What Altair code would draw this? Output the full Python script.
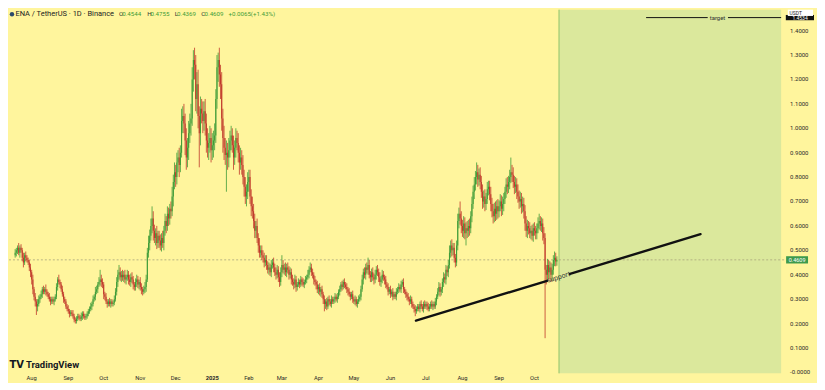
import altair as alt
import pandas as pd

# ---------------- data ----------------
first_day = "2024-07-10"
first_open = 0.39
closes = [
    0.40, 0.41, 0.43, 0.42, 0.45, 0.47, 0.46, 0.48, 0.49, 0.50,
    0.51, 0.49, 0.51, 0.50, 0.47, 0.45, 0.48, 0.47, 0.46, 0.45,
    0.43, 0.41, 0.38, 0.34, 0.31, 0.29, 0.27, 0.28, 0.30, 0.31,
    0.32, 0.34, 0.33, 0.34, 0.33, 0.32, 0.31, 0.30, 0.29, 0.30,
    0.29, 0.30, 0.31, 0.35, 0.38, 0.37, 0.36, 0.34, 0.32, 0.30,
    0.29, 0.27, 0.26, 0.25, 0.24, 0.245, 0.24, 0.23, 0.215, 0.21,
    0.22, 0.23, 0.225, 0.22, 0.23, 0.24, 0.23, 0.225, 0.23, 0.24,
    0.25, 0.26, 0.27, 0.28, 0.30, 0.31, 0.33, 0.34, 0.36, 0.37,
    0.38, 0.37, 0.36, 0.32, 0.31, 0.29, 0.28, 0.29, 0.28, 0.29,
    0.28, 0.285, 0.30, 0.33, 0.37, 0.40, 0.41, 0.39, 0.40, 0.39,
    0.40, 0.38, 0.39, 0.40, 0.38, 0.37, 0.39, 0.38, 0.36, 0.35,
    0.37, 0.38, 0.36, 0.37, 0.35, 0.34, 0.33, 0.34, 0.35, 0.38,
    0.49, 0.53, 0.56, 0.60, 0.63, 0.58, 0.55, 0.57, 0.53, 0.56,
    0.54, 0.52, 0.55, 0.53, 0.58, 0.62, 0.60, 0.65, 0.63, 0.67,
    0.66, 0.72, 0.78, 0.82, 0.80, 0.86, 0.88, 0.85, 0.90, 1.03,
    1.05, 1.02, 0.95, 0.88, 0.92, 0.98, 1.02, 1.04, 1.20, 1.28,
    1.26, 1.12, 1.18, 1.05, 0.98, 1.08, 1.06, 1.03, 1.07, 1.02,
    0.95, 0.92, 0.94, 0.96, 0.91, 0.93, 0.95, 0.97, 1.12, 1.25,
    1.28, 1.22, 1.18, 1.04, 0.96, 0.92, 0.89, 0.90, 0.88, 0.91,
    0.95, 0.97, 0.93, 0.88, 0.92, 0.96, 0.94, 0.90, 0.86, 0.88,
    0.85, 0.80, 0.76, 0.72, 0.74, 0.78, 0.80, 0.72, 0.68, 0.66,
    0.62, 0.58, 0.60, 0.55, 0.52, 0.49, 0.50, 0.48, 0.47, 0.45,
    0.46, 0.44, 0.42, 0.43, 0.41, 0.44, 0.45, 0.43, 0.41, 0.40,
    0.42, 0.39, 0.37, 0.41, 0.44, 0.42, 0.43, 0.41, 0.43, 0.42,
    0.40, 0.41, 0.38, 0.37, 0.36, 0.38, 0.35, 0.36, 0.37, 0.36,
    0.38, 0.37, 0.36, 0.37, 0.38, 0.39, 0.40, 0.42, 0.43, 0.41,
    0.40, 0.38, 0.37, 0.36, 0.34, 0.35, 0.33, 0.34, 0.32, 0.30,
    0.28, 0.29, 0.27, 0.30, 0.29, 0.28, 0.30, 0.29, 0.30, 0.31,
    0.30, 0.31, 0.33, 0.34, 0.36, 0.35, 0.37, 0.36, 0.35, 0.34,
    0.33, 0.32, 0.31, 0.32, 0.30, 0.29, 0.30, 0.28, 0.29, 0.30,
    0.31, 0.34, 0.38, 0.41, 0.40, 0.43, 0.42, 0.44, 0.40, 0.39,
    0.41, 0.39, 0.38, 0.40, 0.42, 0.41, 0.39, 0.37, 0.38, 0.40,
    0.39, 0.38, 0.36, 0.35, 0.33, 0.34, 0.32, 0.33, 0.31, 0.32,
    0.31, 0.33, 0.34, 0.35, 0.34, 0.36, 0.37, 0.34, 0.33, 0.32,
    0.31, 0.30, 0.29, 0.30, 0.28, 0.27, 0.26, 0.25, 0.26, 0.27,
    0.26, 0.28, 0.27, 0.26, 0.28, 0.27, 0.28, 0.27, 0.26, 0.27,
    0.28, 0.27, 0.28, 0.27, 0.29, 0.31, 0.33, 0.35, 0.33, 0.34,
    0.37, 0.39, 0.38, 0.42, 0.41, 0.44, 0.49, 0.52, 0.50, 0.51,
    0.47, 0.45, 0.52, 0.62, 0.65, 0.63, 0.60, 0.58, 0.61, 0.57,
    0.59, 0.58, 0.60, 0.59, 0.64, 0.69, 0.74, 0.77, 0.80, 0.82,
    0.79, 0.81, 0.78, 0.74, 0.70, 0.72, 0.69, 0.71, 0.75, 0.76,
    0.73, 0.69, 0.66, 0.64, 0.67, 0.65, 0.68, 0.66, 0.68, 0.70,
    0.67, 0.69, 0.71, 0.74, 0.77, 0.76, 0.78, 0.80, 0.82, 0.81,
    0.78, 0.76, 0.77, 0.74, 0.72, 0.70, 0.71, 0.68, 0.69, 0.66,
    0.61, 0.58, 0.60, 0.59, 0.57, 0.58, 0.56, 0.59, 0.58, 0.57,
    0.59, 0.61, 0.62, 0.60, 0.61, 0.57, 0.55, 0.42, 0.40, 0.44,
    0.41, 0.43, 0.40, 0.42, 0.46, 0.47, 0.4544, 0.4609,
]
wick_up = [
    0.01, 0.015, 0.01, 0.02, 0.01, 0.015, 0.02, 0.01, 0.015, 0.01,
    0.01, 0.02, 0.01, 0.015, 0.01, 0.02, 0.01, 0.015, 0.01, 0.01,
    0.01, 0.015, 0.01, 0.02, 0.01, 0.015, 0.01, 0.02, 0.015, 0.01,
    0.015, 0.01, 0.015, 0.01, 0.02, 0.01, 0.01, 0.015, 0.01, 0.01,
    0.01, 0.01, 0.01, 0.015, 0.01, 0.02, 0.01, 0.01, 0.015, 0.01,
    0.01, 0.01, 0.01, 0.015, 0.01, 0.01, 0.01, 0.015, 0.01, 0.01,
    0.01, 0.01, 0.01, 0.01, 0.015, 0.01, 0.01, 0.01, 0.01, 0.01,
    0.01, 0.01, 0.015, 0.01, 0.015, 0.01, 0.02, 0.015, 0.01, 0.02,
    0.04, 0.02, 0.015, 0.01, 0.01, 0.015, 0.01, 0.01, 0.015, 0.01,
    0.01, 0.01, 0.015, 0.015, 0.02, 0.02, 0.03, 0.02, 0.015, 0.02,
    0.015, 0.02, 0.01, 0.02, 0.015, 0.02, 0.015, 0.02, 0.015, 0.01,
    0.015, 0.02, 0.015, 0.01, 0.02, 0.015, 0.01, 0.015, 0.02, 0.02,
    0.02, 0.03, 0.025, 0.03, 0.05, 0.03, 0.025, 0.02, 0.03, 0.02,
    0.02, 0.025, 0.02, 0.03, 0.02, 0.03, 0.02, 0.03, 0.025, 0.02,
    0.03, 0.04, 0.03, 0.04, 0.03, 0.04, 0.03, 0.04, 0.03, 0.05,
    0.04, 0.05, 0.04, 0.05, 0.04, 0.05, 0.04, 0.06, 0.05, 0.04,
    0.05, 0.04, 0.05, 0.06, 0.04, 0.05, 0.04, 0.05, 0.04, 0.05,
    0.04, 0.05, 0.04, 0.05, 0.04, 0.05, 0.04, 0.05, 0.04, 0.05,
    0.03, 0.05, 0.04, 0.05, 0.04, 0.05, 0.04, 0.05, 0.04, 0.05,
    0.04, 0.04, 0.03, 0.04, 0.03, 0.04, 0.03, 0.04, 0.03, 0.04,
    0.03, 0.04, 0.03, 0.04, 0.03, 0.04, 0.03, 0.03, 0.03, 0.04,
    0.03, 0.03, 0.02, 0.03, 0.02, 0.03, 0.02, 0.02, 0.02, 0.02,
    0.02, 0.02, 0.015, 0.02, 0.015, 0.02, 0.015, 0.02, 0.015, 0.02,
    0.02, 0.015, 0.02, 0.02, 0.04, 0.02, 0.015, 0.02, 0.015, 0.02,
    0.015, 0.02, 0.015, 0.02, 0.015, 0.02, 0.015, 0.01, 0.015, 0.01,
    0.015, 0.01, 0.015, 0.01, 0.015, 0.01, 0.02, 0.015, 0.02, 0.015,
    0.015, 0.01, 0.015, 0.01, 0.015, 0.01, 0.015, 0.01, 0.015, 0.01,
    0.015, 0.01, 0.015, 0.01, 0.015, 0.01, 0.015, 0.01, 0.01, 0.015,
    0.01, 0.015, 0.01, 0.015, 0.01, 0.015, 0.01, 0.015, 0.01, 0.015,
    0.01, 0.015, 0.01, 0.01, 0.015, 0.01, 0.015, 0.01, 0.01, 0.015,
    0.01, 0.015, 0.02, 0.015, 0.02, 0.015, 0.02, 0.03, 0.02, 0.015,
    0.015, 0.02, 0.015, 0.02, 0.015, 0.02, 0.015, 0.02, 0.015, 0.02,
    0.015, 0.01, 0.015, 0.01, 0.015, 0.01, 0.015, 0.01, 0.015, 0.01,
    0.01, 0.015, 0.01, 0.015, 0.01, 0.015, 0.01, 0.015, 0.01, 0.01,
    0.01, 0.015, 0.01, 0.015, 0.01, 0.01, 0.01, 0.015, 0.01, 0.01,
    0.01, 0.01, 0.015, 0.01, 0.01, 0.015, 0.01, 0.01, 0.015, 0.01,
    0.01, 0.015, 0.01, 0.01, 0.015, 0.01, 0.015, 0.02, 0.015, 0.01,
    0.015, 0.02, 0.015, 0.02, 0.015, 0.02, 0.03, 0.02, 0.025, 0.02,
    0.02, 0.015, 0.02, 0.03, 0.025, 0.05, 0.03, 0.025, 0.03, 0.025,
    0.025, 0.03, 0.025, 0.03, 0.02, 0.03, 0.025, 0.03, 0.025, 0.04,
    0.03, 0.025, 0.03, 0.025, 0.03, 0.025, 0.03, 0.025, 0.03, 0.025,
    0.025, 0.03, 0.025, 0.03, 0.025, 0.03, 0.025, 0.03, 0.025, 0.03,
    0.025, 0.03, 0.025, 0.02, 0.025, 0.03, 0.025, 0.03, 0.06, 0.03,
    0.03, 0.025, 0.03, 0.025, 0.03, 0.025, 0.03, 0.025, 0.03, 0.025,
    0.025, 0.03, 0.025, 0.02, 0.025, 0.02, 0.025, 0.02, 0.025, 0.02,
    0.02, 0.025, 0.03, 0.02, 0.025, 0.02, 0.025, 0.02, 0.02, 0.025,
    0.02, 0.025, 0.02, 0.025, 0.02, 0.025, 0.02, 0.0146,
]
wick_dn = [
    0.01, 0.01, 0.015, 0.01, 0.02, 0.01, 0.015, 0.01, 0.01, 0.015,
    0.015, 0.01, 0.02, 0.01, 0.015, 0.02, 0.01, 0.015, 0.01, 0.01,
    0.015, 0.02, 0.02, 0.02, 0.015, 0.02, 0.035, 0.02, 0.01, 0.015,
    0.01, 0.015, 0.01, 0.01, 0.015, 0.01, 0.01, 0.01, 0.015, 0.01,
    0.01, 0.015, 0.01, 0.01, 0.015, 0.01, 0.015, 0.01, 0.01, 0.015,
    0.01, 0.01, 0.01, 0.01, 0.015, 0.01, 0.01, 0.01, 0.01, 0.01,
    0.01, 0.01, 0.01, 0.01, 0.01, 0.015, 0.01, 0.01, 0.01, 0.01,
    0.01, 0.01, 0.01, 0.015, 0.01, 0.01, 0.015, 0.01, 0.015, 0.01,
    0.015, 0.02, 0.015, 0.02, 0.015, 0.01, 0.015, 0.01, 0.01, 0.015,
    0.01, 0.01, 0.01, 0.01, 0.015, 0.02, 0.02, 0.015, 0.02, 0.015,
    0.02, 0.015, 0.02, 0.015, 0.02, 0.015, 0.02, 0.015, 0.02, 0.015,
    0.015, 0.02, 0.015, 0.02, 0.015, 0.02, 0.015, 0.01, 0.015, 0.02,
    0.01, 0.02, 0.03, 0.02, 0.03, 0.04, 0.02, 0.03, 0.025, 0.02,
    0.03, 0.02, 0.025, 0.02, 0.03, 0.02, 0.03, 0.02, 0.03, 0.025,
    0.03, 0.02, 0.04, 0.03, 0.04, 0.03, 0.04, 0.05, 0.03, 0.02,
    0.05, 0.04, 0.06, 0.05, 0.04, 0.05, 0.04, 0.05, 0.03, 0.05,
    0.06, 0.05, 0.06, 0.05, 0.14, 0.05, 0.04, 0.05, 0.04, 0.05,
    0.05, 0.04, 0.05, 0.04, 0.05, 0.04, 0.05, 0.04, 0.03, 0.04,
    0.06, 0.05, 0.06, 0.05, 0.06, 0.05, 0.04, 0.15, 0.05, 0.04,
    0.03, 0.04, 0.03, 0.05, 0.03, 0.04, 0.03, 0.04, 0.05, 0.03,
    0.04, 0.03, 0.04, 0.03, 0.04, 0.03, 0.04, 0.03, 0.04, 0.03,
    0.03, 0.03, 0.03, 0.02, 0.03, 0.02, 0.02, 0.02, 0.02, 0.02,
    0.015, 0.02, 0.015, 0.02, 0.015, 0.02, 0.015, 0.02, 0.015, 0.02,
    0.015, 0.02, 0.02, 0.015, 0.02, 0.015, 0.02, 0.015, 0.02, 0.015,
    0.02, 0.015, 0.02, 0.015, 0.02, 0.015, 0.02, 0.015, 0.01, 0.015,
    0.01, 0.015, 0.01, 0.015, 0.01, 0.015, 0.01, 0.015, 0.01, 0.015,
    0.015, 0.02, 0.015, 0.02, 0.015, 0.02, 0.015, 0.02, 0.015, 0.02,
    0.03, 0.02, 0.015, 0.01, 0.015, 0.01, 0.015, 0.01, 0.01, 0.015,
    0.01, 0.015, 0.01, 0.015, 0.01, 0.015, 0.01, 0.015, 0.01, 0.015,
    0.015, 0.01, 0.015, 0.01, 0.015, 0.01, 0.015, 0.01, 0.015, 0.01,
    0.01, 0.015, 0.01, 0.02, 0.015, 0.02, 0.015, 0.02, 0.015, 0.02,
    0.02, 0.015, 0.02, 0.015, 0.02, 0.015, 0.02, 0.015, 0.02, 0.015,
    0.015, 0.02, 0.015, 0.01, 0.015, 0.01, 0.015, 0.01, 0.015, 0.01,
    0.01, 0.015, 0.01, 0.015, 0.01, 0.015, 0.01, 0.015, 0.01, 0.015,
    0.015, 0.01, 0.015, 0.01, 0.015, 0.01, 0.015, 0.02, 0.01, 0.01,
    0.01, 0.015, 0.01, 0.01, 0.015, 0.01, 0.01, 0.015, 0.01, 0.01,
    0.01, 0.01, 0.015, 0.01, 0.01, 0.015, 0.01, 0.015, 0.02, 0.015,
    0.015, 0.02, 0.015, 0.02, 0.015, 0.02, 0.015, 0.02, 0.025, 0.02,
    0.02, 0.02, 0.015, 0.02, 0.03, 0.025, 0.03, 0.025, 0.03, 0.025,
    0.05, 0.03, 0.025, 0.03, 0.02, 0.025, 0.02, 0.03, 0.025, 0.03,
    0.03, 0.025, 0.03, 0.025, 0.03, 0.025, 0.03, 0.025, 0.02, 0.025,
    0.025, 0.03, 0.025, 0.03, 0.025, 0.03, 0.025, 0.03, 0.025, 0.02,
    0.03, 0.025, 0.03, 0.02, 0.025, 0.03, 0.025, 0.03, 0.025, 0.03,
    0.025, 0.03, 0.025, 0.03, 0.025, 0.03, 0.025, 0.03, 0.025, 0.03,
    0.03, 0.025, 0.03, 0.025, 0.02, 0.025, 0.02, 0.025, 0.02, 0.025,
    0.025, 0.02, 0.025, 0.02, 0.025, 0.03, 0.025, 0.28, 0.04, 0.03,
    0.03, 0.025, 0.03, 0.025, 0.02, 0.025, 0.02, 0.0175,
]
assert len(closes) == len(wick_up) == len(wick_dn)

last_price = 0.4609
last_price_text = "0.4609"
header_title = "ENA / TetherUS · 1D · Binance"
ohlc_keys = ["O", "H", "L", "C"]
ohlc_vals = ["0.4544", "0.4755", "0.4369", "0.4609"]
change_abs = "+0.0065"
change_pct = "(+1.43%)"
quote_unit = "USDT"

month_ticks = ["2024-08-01", "2024-09-01", "2024-10-01", "2024-11-01", "2024-12-01",
               "2025-01-01", "2025-02-01", "2025-03-01", "2025-04-01", "2025-05-01",
               "2025-06-01", "2025-07-01", "2025-08-01", "2025-09-01", "2025-10-01"]
price_ticks = [0.0, 0.1, 0.2, 0.3, 0.4, 0.5, 0.6, 0.7, 0.8, 0.9, 1.0, 1.1, 1.2, 1.3, 1.4]

view_start = "2024-07-17T00:00"
view_end = "2026-04-28T00:00"
price_min, price_max = -0.00405, 1.4858

zone_start = "2025-10-21T19:00"

support_t1 = ["2025-06-22T14:00", "2025-10-31T02:00"]
support_p1 = [0.212, 0.4035]
support_t2 = ["2025-10-11T17:00", "2026-02-18T17:00"]
support_p2 = [0.375, 0.566]
support_label_t = "2025-10-21T10:00"
support_label_p = 0.389

target_price = 1.4534
target_price_text = "1.4534"
target_t1 = ["2026-01-03T14:00", "2026-03-13T23:00"]
target_t2 = ["2026-02-24T19:00", "2026-04-28T00:00"]
target_label_t = "2026-03-05T02:00"

# ---------------- styling ----------------
W, H = 780, 365
BG = "#fff59d"
ZONE = "#dbe89c"
UP = "#3f9c38"
DOWN = "#c0392b"
FONT = "Roboto"
LABEL = "#2a2a2a"

dates = pd.date_range(first_day, periods=len(closes), freq="D")
opens = [first_open] + closes[:-1]
candles = pd.DataFrame({
    "date": dates,
    "open": opens,
    "close": closes,
    "high": [max(o, c) + u for o, c, u in zip(opens, closes, wick_up)],
    "low": [min(o, c) - d for o, c, d in zip(opens, closes, wick_dn)],
})
candles["dir"] = ["up" if c >= o else "down" for o, c in zip(opens, closes)]

mt = pd.to_datetime(month_ticks)
xlab = pd.DataFrame({"t": mt, "lab": [str(t.year) if t.month == 1 else t.strftime("%b") for t in mt],
                     "yr": [t.month == 1 for t in mt]})
ylab = pd.DataFrame({"p": price_ticks, "lab": ["-0.0000" if v == 0 else f"{v:.4f}" for v in price_ticks]})


def dt(s):
    t = pd.Timestamp(s)
    return alt.DateTime(year=t.year, month=t.month, date=t.day, hours=t.hour, minutes=t.minute)


xs = alt.Scale(domain=[dt(view_start), dt(view_end)], nice=False)
ys = alt.Scale(domain=[price_min, price_max], nice=False, zero=False)
col = alt.Color("dir:N", scale=alt.Scale(domain=["up", "down"], range=[UP, DOWN]), legend=None)
in_view = alt.FieldGTPredicate(field="date", gt=dt(view_start))

one = pd.DataFrame({"k": [0]})

# background strip under the time scale
strip = alt.Chart(one).mark_rect(color=BG).encode(
    x=alt.value(0), x2=alt.value(W + 29), y=alt.value(H), y2=alt.value(H + 9))

zone_df = pd.DataFrame({"start": [pd.Timestamp(zone_start)], "end": [pd.Timestamp(view_end)]})
zone = alt.Chart(zone_df).mark_rect(color=ZONE).encode(
    x=alt.X("start:T", scale=xs, axis=None), x2="end:T", y=alt.value(0), y2=alt.value(H))
zone_edge = alt.Chart(zone_df).mark_rule(color="#8fc46a", strokeWidth=1).encode(
    x=alt.X("start:T", scale=xs, axis=None), y=alt.value(0), y2=alt.value(H))

price_line = alt.Chart(pd.DataFrame({"p": [last_price]})).mark_rule(
    color="#a8a67c", strokeWidth=0.8, strokeDash=[2, 2]).encode(
    x=alt.value(0), x2=alt.value(W), y=alt.Y("p:Q", scale=ys, axis=None))

wicks = alt.Chart(candles).transform_filter(in_view).mark_rule(strokeWidth=0.8, clip=True).encode(
    x=alt.X("date:T", scale=xs, axis=None),
    y=alt.Y("low:Q", scale=ys, axis=None), y2="high:Q", color=col)
bodies = alt.Chart(candles).transform_filter(in_view).mark_bar(width=1.05, clip=True).encode(
    x=alt.X("date:T", scale=xs, axis=None),
    y=alt.Y("open:Q", scale=ys, axis=None), y2="close:Q", color=col)

# time-scale labels
xl_month = alt.Chart(xlab).transform_filter("!datum.yr").mark_text(
    fontSize=5.8, font=FONT, color=LABEL, baseline="middle", align="center").encode(
    x=alt.X("t:T", scale=xs, axis=None), y=alt.value(H + 5), text="lab:N")
xl_year = alt.Chart(xlab).transform_filter("datum.yr").mark_text(
    fontSize=5.8, font=FONT, color=LABEL, fontWeight="bold", baseline="middle", align="center").encode(
    x=alt.X("t:T", scale=xs, axis=None), y=alt.value(H + 5), text="lab:N")
# price-scale labels
yl = alt.Chart(ylab).mark_text(
    fontSize=6, font=FONT, color=LABEL, baseline="middle", align="left").encode(
    x=alt.value(W + 4), y=alt.Y("p:Q", scale=ys, axis=None), text="lab:N")

sup_df = pd.DataFrame({"t1": pd.to_datetime(support_t1), "p1": support_p1,
                       "t2": pd.to_datetime(support_t2), "p2": support_p2})
support = alt.Chart(sup_df).mark_rule(color="#111111", strokeWidth=2.4, strokeCap="round").encode(
    x=alt.X("t1:T", scale=xs, axis=None), x2="t2:T",
    y=alt.Y("p1:Q", scale=ys, axis=None), y2="p2:Q")
sup_lab = alt.Chart(pd.DataFrame({"t": [pd.Timestamp(support_label_t)], "p": [support_label_p]})).mark_text(
    text="support", angle=343, fontSize=7, color="#333333", font=FONT, baseline="middle", align="center").encode(
    x=alt.X("t:T", scale=xs, axis=None), y=alt.Y("p:Q", scale=ys, axis=None))

tgt_df = pd.DataFrame({"t1": pd.to_datetime(target_t1), "t2": pd.to_datetime(target_t2),
                       "p": [target_price] * len(target_t1)})
target = alt.Chart(tgt_df).mark_rule(color="#111111", strokeWidth=1).encode(
    x=alt.X("t1:T", scale=xs, axis=None), x2="t2:T", y=alt.Y("p:Q", scale=ys, axis=None))
tgt_lab = alt.Chart(pd.DataFrame({"t": [pd.Timestamp(target_label_t)], "p": [target_price]})).mark_text(
    text="target", fontSize=6, color="#333333", font=FONT, baseline="middle", align="center").encode(
    x=alt.X("t:T", scale=xs, axis=None), y=alt.Y("p:Q", scale=ys, axis=None))

# price-scale tags
lp_df = pd.DataFrame({"p": [last_price]})
lp_box = alt.Chart(lp_df).mark_rule(color="#3d9a4d", strokeWidth=7.3).encode(
    x=alt.value(W), x2=alt.value(W + 22), y=alt.Y("p:Q", scale=ys, axis=None))
lp_txt = alt.Chart(lp_df).mark_text(text=last_price_text, color="white", fontSize=5.5, font=FONT,
                                    baseline="middle", align="center").encode(
    x=alt.value(W + 11), y=alt.Y("p:Q", scale=ys, axis=None))
tp_df = pd.DataFrame({"p": [target_price]})
tp_box = alt.Chart(tp_df).mark_rule(color="#111111", strokeWidth=5.3).encode(
    x=alt.value(W - 0.3), x2=alt.value(W + 28), y=alt.Y("p:Q", scale=ys, axis=None))
tp_txt = alt.Chart(tp_df).mark_text(text=target_price_text, color="white", fontSize=5, font=FONT,
                                    baseline="middle", align="center").encode(
    x=alt.value(W + 14), y=alt.Y("p:Q", scale=ys, axis=None))
usdt_box = alt.Chart(one).mark_rect(color="white").encode(
    x=alt.value(W + 1.7), x2=alt.value(W + 27), y=alt.value(0), y2=alt.value(6.3))
usdt_txt = alt.Chart(one).mark_text(text=quote_unit, color="#222222", fontSize=5, font=FONT,
                                    baseline="middle", align="left").encode(
    x=alt.value(W + 3.5), y=alt.value(3.3))


def label(text, x, y, size, color, weight="normal", font=FONT):
    return alt.Chart(one).mark_text(text=text, align="left", baseline="middle", fontSize=size,
                                    color=color, fontWeight=weight, font=font).encode(
        x=alt.value(x), y=alt.value(y))


icon = alt.Chart(one).mark_point(shape="circle", filled=True, color="#2b4a6b", size=20, opacity=1).encode(
    x=alt.value(3), y=alt.value(4.5))
header = [label(header_title, 6.5, 4.5, 7.5, "#222222")]
key_x = [110.3, 138.7, 166.3, 193.0]
val_x = [113.7, 142.0, 168.7, 196.3]
for k, v, kx, vx in zip(ohlc_keys, ohlc_vals, key_x, val_x):
    header.append(label(k, kx, 4.5, 6.2, "#333333"))
    header.append(label(v, vx, 4.5, 6.2, UP))
header.append(label(change_abs, 220.3, 4.5, 6.2, UP))
header.append(label(change_pct, 242.7, 4.5, 6.2, UP))

logo_icon = label("TV", 0.5, 356.5, 10, "#131722", weight=900, font="DejaVu Sans")
logo_txt = label("TradingView", 17, 356.5, 9.5, "#131722", weight="bold")

chart = alt.layer(
    strip, zone, zone_edge, price_line, wicks, bodies, xl_month, xl_year, yl,
    support, sup_lab, target, tgt_lab,
    lp_box, lp_txt, tp_box, tp_txt, usdt_box, usdt_txt, icon, *header, logo_icon, logo_txt,
).properties(
    width=W, height=H, padding=0, background=BG,
).configure_view(strokeWidth=0, fill=BG)

chart.save("out.html", embed_options={"renderer": "svg", "actions": False})
